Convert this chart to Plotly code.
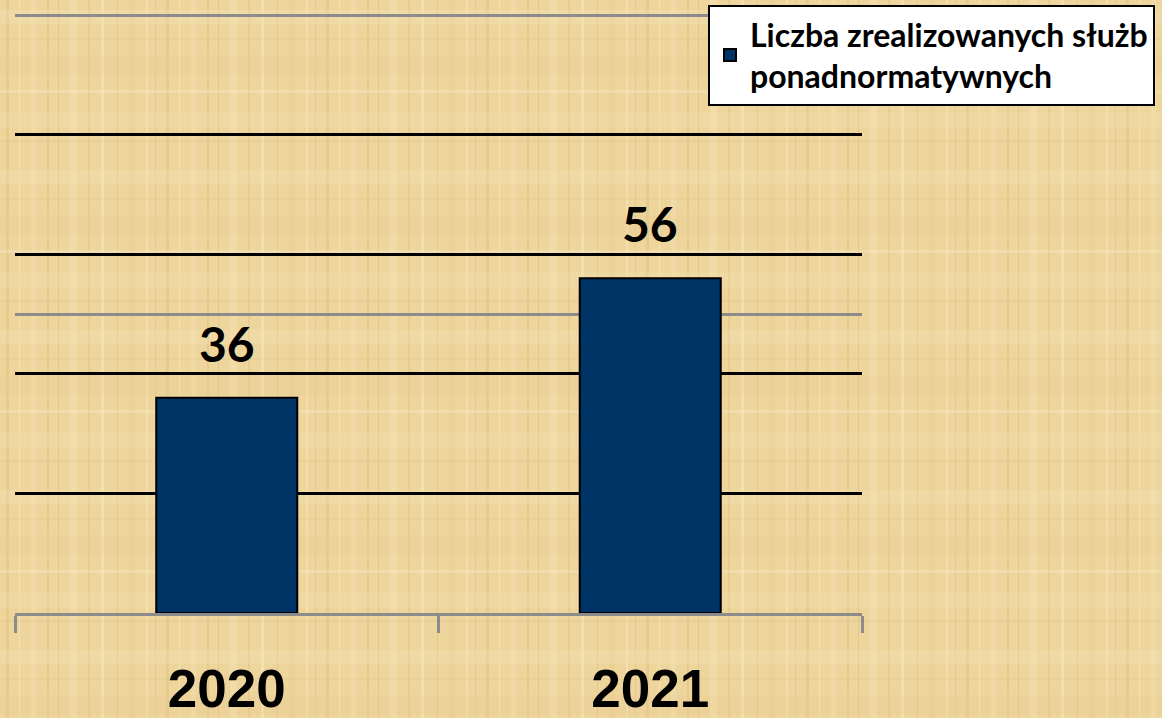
import base64
import plotly.graph_objects as go

# Data
years = ["2020", "2021"]
services = [36, 56]
series_name = "Liczba zrealizowanych służb<br>ponadnormatywnych"

paper_color = "#EDD59C"
bar_color = "#003366"
axis_gray = "#8C8C8C"

# Papyrus-like woven background tile (vertical and horizontal fibre strips)
vertical_strips = [  # (x, width, colour, opacity)
    (6, 3, "#D9B878", 0.35), (19, 1, "#F8E9C2", 0.6), (31, 5, "#F5E3B4", 0.45),
    (47, 2, "#D6B373", 0.3), (58, 1, "#C9A864", 0.3), (70, 7, "#F7E6BC", 0.4),
    (88, 2, "#DAB97B", 0.35), (101, 3, "#F9EBC6", 0.5), (117, 1, "#CFAE6C", 0.35),
    (129, 6, "#E4C78A", 0.35), (146, 2, "#F8E8C0", 0.5), (155, 1, "#D3B070", 0.3),
]
horizontal_strips = [  # (y, height, colour, opacity)
    (10, 14, "#F6E4B6", 0.3), (38, 2, "#D7B676", 0.18), (55, 20, "#E6CA8E", 0.22),
    (90, 3, "#F9EAC4", 0.35), (112, 16, "#F4E1B0", 0.25), (140, 2, "#D4B272", 0.18),
]
tile = 160
rects = "".join(
    f'<rect x="{x}" y="0" width="{w}" height="{tile}" fill="{c}" fill-opacity="{o}"/>'
    for x, w, c, o in vertical_strips
) + "".join(
    f'<rect x="0" y="{y}" width="{tile}" height="{h}" fill="{c}" fill-opacity="{o}"/>'
    for y, h, c, o in horizontal_strips
)
svg = (
    f'<svg xmlns="http://www.w3.org/2000/svg" width="1162" height="718">'
    f'<defs><pattern id="p" width="{tile}" height="{tile}" patternUnits="userSpaceOnUse">'
    f'<rect width="{tile}" height="{tile}" fill="{paper_color}"/>{rects}</pattern></defs>'
    f'<rect width="1162" height="718" fill="url(#p)"/></svg>'
)
texture_uri = "data:image/svg+xml;base64," + base64.b64encode(svg.encode()).decode()

fig = go.Figure()
fig.add_trace(
    go.Bar(
        x=years,
        y=services,
        name=series_name,
        marker=dict(color=bar_color, line=dict(color="black", width=2)),
        showlegend=True,
    )
)

# Value labels above each bar (x given as category index)
for i, v in enumerate(services):
    fig.add_annotation(
        x=i, y=v, text=str(v), showarrow=False,
        yanchor="bottom", yshift=24,
        font=dict(family="Lato", size=48, color="black", weight=700),
    )

fig.add_layout_image(
    source=texture_uri, xref="paper", yref="paper",
    x=-15 / 847, y=1 + 13 / 600, sizex=1162 / 847, sizey=718 / 600,
    xanchor="left", yanchor="top", sizing="stretch", layer="below",
)

fig.update_layout(
    width=1162, height=718,
    margin=dict(l=15, r=300, t=13, b=105, autoexpand=False),
    paper_bgcolor=paper_color,
    plot_bgcolor="rgba(0,0,0,0)",
    bargap=0.667,
    showlegend=True,
    legend=dict(
        xref="container", yref="container",
        x=708 / 1162, y=1 - 5 / 718,
        xanchor="left", yanchor="top",
        bgcolor="white", bordercolor="black", borderwidth=2,
        font=dict(family="Lato", size=32, color="black", weight=700),
    ),
    xaxis=dict(
        type="category", automargin=False, tickangle=0,
        range=[-0.5, len(years) - 0.5],
        showline=True, linecolor=axis_gray, linewidth=3,
        ticks="outside", tickson="boundaries", ticklen=17, tickwidth=3,
        tickcolor=axis_gray, ticklabelstandoff=27,
        tickfont=dict(family="Liberation Sans", size=53, color="black", weight=700),
        showgrid=False,
    ),
    yaxis=dict(
        automargin=False,
        range=[0, 100.4],
        dtick=50, tick0=0,
        showgrid=True, gridcolor=axis_gray, gridwidth=3,
        zeroline=False, showticklabels=False, ticks="",
        minor=dict(dtick=20, showgrid=True, gridcolor="black", gridwidth=2.5),
    ),
)

fig.write_html("out.html")
